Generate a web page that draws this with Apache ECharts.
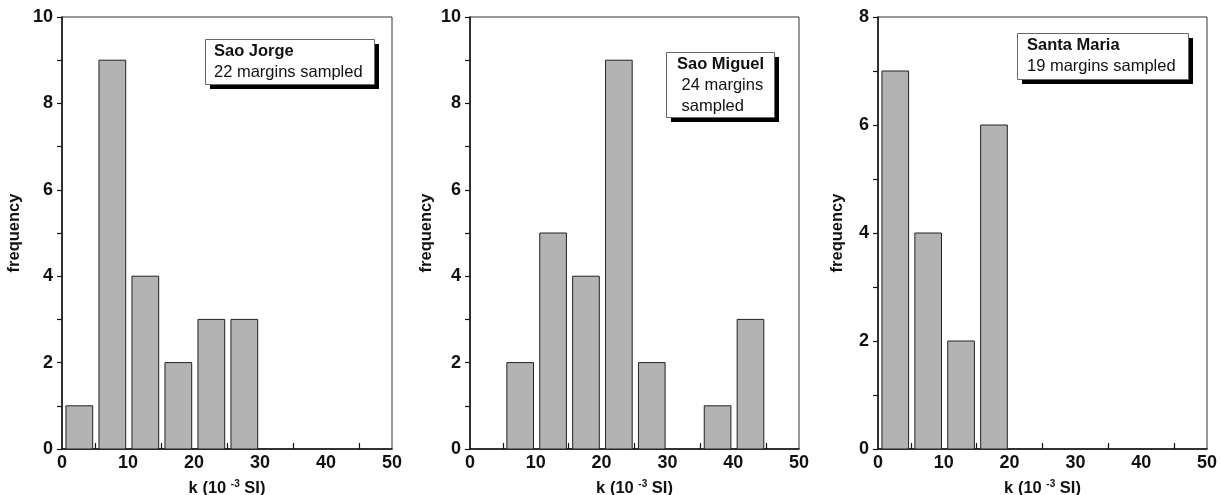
<!DOCTYPE html>
<html>
<head>
<meta charset="utf-8">
<script src="https://cdn.jsdelivr.net/npm/echarts@6/dist/echarts.min.js"></script>
<style>
  html, body { margin: 0; padding: 0; background: #fff; }
  #chart { width: 1220px; height: 495px; }
</style>
</head>
<body>
<div id="chart"></div>
<script>
// bin edges (k, 10^-3 SI) and counts per island
const binStarts = [0, 5, 10, 15, 20, 25, 30, 35, 40, 45]
const saoJorge = [1, 9, 4, 2, 3, 3, 0, 0, 0, 0]
const saoMiguel = [0, 2, 5, 4, 9, 2, 0, 1, 3, 0]
const santaMaria = [7, 4, 2, 6, 0, 0, 0, 0, 0, 0]
const xLabels = [0, 10, 20, 30, 40, 50]
const xTicks = [5, 15, 25, 35, 45]
const panelNames = ['Sao Jorge', 'Sao Miguel', 'Santa Maria']
const panelNotes = [['22 margins sampled'], [' 24 margins', ' sampled'], ['19 margins sampled']]
const yMax = [10, 10, 8]

const font = 'Liberation Sans, Arial, sans-serif'
const binWidth = 5

function toBins(counts) {
  const out = []
  counts.forEach((c, i) => {
    if (c > 0) out.push([binStarts[i], binStarts[i] + binWidth, c])
  })
  return out
}

const panels = [saoJorge, saoMiguel, santaMaria]
const grids = [
  { left: 62, top: 17, width: 330, height: 432 },
  { left: 470, top: 17, width: 329, height: 432 },
  { left: 878, top: 17, width: 329, height: 432 }
]
const nameGaps = [39, 35, 32]

const option = {
  animation: false,
  grid: grids.map(g => Object.assign({
    show: true, borderColor: '#333', borderWidth: 1, backgroundColor: 'transparent',
    outerBoundsMode: 'none', containLabel: false
  }, g)),
  xAxis: panels.map((p, i) => ({
    type: 'value',
    gridIndex: i,
    min: 0,
    max: 50,
    interval: 5,
    name: 'k (10 {sup|-3} SI)',
    nameLocation: 'middle',
    nameGap: 30,
    nameTextStyle: {
      fontFamily: font, fontWeight: 'bold', fontSize: 16.5, color: '#111',
      rich: { sup: { fontFamily: font, fontWeight: 'bold', fontSize: 10, color: '#111', verticalAlign: 'top', padding: [0, 0, 8, 0] } }
    },
    axisLine: { lineStyle: { color: '#111', width: 1.5 } },
    axisTick: { show: true, inside: true, length: 6, customValues: xTicks, lineStyle: { color: '#111', width: 1.2 } },
    axisLabel: { customValues: xLabels, fontFamily: font, fontWeight: 'bold', fontSize: 18, color: '#111', margin: 5 },
    splitLine: { show: false }
  })),
  yAxis: panels.map((p, i) => ({
    type: 'value',
    gridIndex: i,
    min: 0,
    max: yMax[i],
    interval: 1,
    name: 'frequency',
    nameLocation: 'middle',
    nameGap: nameGaps[i],
    nameTextStyle: { fontFamily: font, fontWeight: 'bold', fontSize: 16.5, color: '#111' },
    axisLine: { lineStyle: { color: '#111', width: 1.5 } },
    axisTick: { show: true, length: 5, lineStyle: { color: '#111', width: 1.2 } },
    axisLabel: {
      fontFamily: font, fontWeight: 'bold', fontSize: 18, color: '#111', margin: 9,
      formatter: v => (v % 2 === 0 ? String(v) : '')
    },
    splitLine: { show: false }
  })),
  series: panels.map((counts, i) => ({
    type: 'custom',
    xAxisIndex: i,
    yAxisIndex: i,
    data: toBins(counts),
    renderItem: function(params, api) {
      const p0 = api.coord([api.value(0) + 0.6, api.value(2)])
      const p1 = api.coord([api.value(1) - 0.35, 0])
      return {
        type: 'rect',
        shape: { x: p0[0], y: p0[1], width: p1[0] - p0[0], height: p1[1] - p0[1] },
        style: { fill: '#b3b3b3', stroke: '#222', lineWidth: 1 }
      }
    }
  })),
  graphic: []
}

// annotation boxes with drop shadows
const boxes = [
  { x: 205, y: 39, w: 169, h: 45, tx: 214 },
  { x: 666, y: 52, w: 108, h: 65, tx: 677 },
  { x: 1017, y: 33, w: 171, h: 46, tx: 1027 }
]
boxes.forEach((b, i) => {
  const lines = [{ text: panelNames[i], bold: true }].concat(panelNotes[i].map(t => ({ text: t, bold: false })))
  option.graphic.push({
    type: 'rect', left: b.x + 5, top: b.y + 5, z: 10,
    shape: { width: b.w, height: b.h }, style: { fill: '#000' }
  })
  option.graphic.push({
    type: 'rect', left: b.x, top: b.y, z: 11,
    shape: { width: b.w, height: b.h }, style: { fill: '#fff', stroke: '#666', lineWidth: 1 }
  })
  lines.forEach((ln, j) => {
    option.graphic.push({
      type: 'text', left: b.tx, top: b.y + 4 + j * 21, z: 12,
      style: { text: ln.text, fontFamily: font, fontSize: 16.5, fontWeight: ln.bold ? 'bold' : 'normal', fill: '#111' }
    })
  })
})

const myChart = echarts.init(document.getElementById('chart'))
myChart.setOption(option)
window.addEventListener('resize', () => {
  myChart.resize()
})
</script>
</body>
</html>
